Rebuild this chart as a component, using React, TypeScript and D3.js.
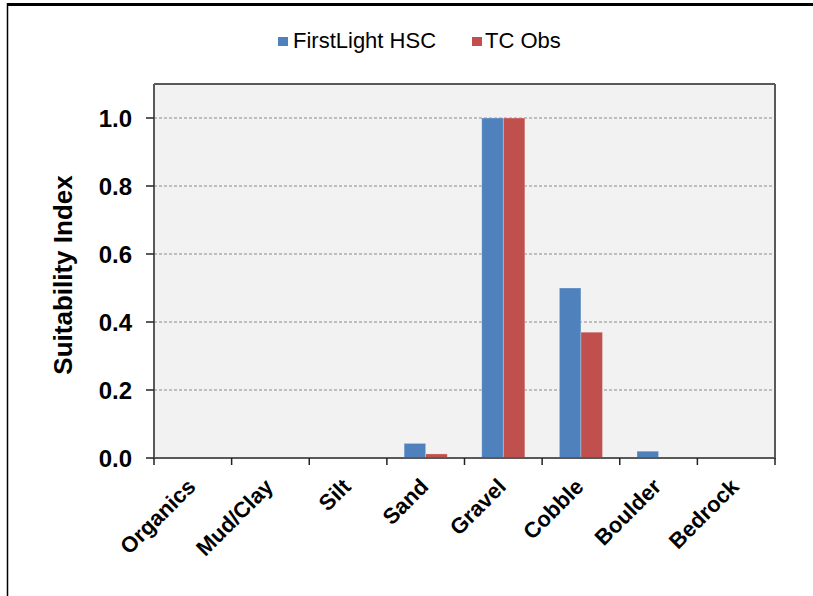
import React from "react";
import * as d3 from "d3";

const categories = ["Organics", "Mud/Clay", "Silt", "Sand", "Gravel", "Cobble", "Boulder", "Bedrock"];
const firstLightHSC = [0, 0, 0, 0.043, 1.0, 0.5, 0.02, 0];
const tcObs = [0, 0, 0, 0.012, 1.0, 0.37, 0, 0];
const seriesNames = ["FirstLight HSC", "TC Obs"];
const seriesColors = ["#4F81BD", "#C0504D"];
const yTicks = [0, 0.2, 0.4, 0.6, 0.8, 1.0];

const W = 813, H = 596;
const M = { left: 154, right: 775, top: 84, bottom: 458 };

export default function App() {
  const x = d3.scaleBand<string>().domain(categories).range([M.left, M.right]).paddingInner(0).paddingOuter(0);
  const xs = d3.scaleBand<string>().domain(seriesNames).range([0, x.bandwidth()]).paddingInner(0).paddingOuter(0.8);
  const y = d3.scaleLinear().domain([0, 1.1]).range([M.bottom, M.top]);
  const series = [firstLightHSC, tcObs];
  const font = "'Liberation Sans', Arial, sans-serif";
  return (
    <div style={{ position: "absolute", left: 0, top: 0 }}>
      <svg width={W} height={H} style={{ display: "block", fontFamily: font }}>
        <rect x={0} y={0} width={W} height={H} fill="#fff" />
        <line x1={7} x2={W} y1={4.5} y2={4.5} stroke="#000" strokeWidth={3} />
        <line x1={7.5} x2={7.5} y1={3} y2={H} stroke="#000" strokeWidth={1.5} />
        <rect x={M.left} y={M.top} width={M.right - M.left} height={M.bottom - M.top} fill="#F2F2F2" />
        {yTicks.filter(t => t > 0).map(t => (
          <line key={t} x1={M.left} x2={M.right} y1={y(t)} y2={y(t)} stroke="#8a8a8a" strokeWidth={1} strokeDasharray="3,2" />
        ))}
        {series.map((vals, si) => categories.map((c, ci) => {
          const v = vals[ci];
          if (v <= 0) return null;
          const bx = (x(c) as number) + (xs(seriesNames[si]) as number);
          return <rect key={si + "-" + ci} x={bx} y={y(v)} width={xs.bandwidth()} height={M.bottom - y(v)} fill={seriesColors[si]} stroke="#ffffff" strokeOpacity={0.35} strokeWidth={0.8} />;
        }))}
        <line x1={M.left} x2={M.right} y1={M.top} y2={M.top} stroke="#595959" strokeWidth={2} />
        <line x1={M.right} x2={M.right} y1={M.top} y2={M.bottom} stroke="#595959" strokeWidth={2} />
        <line x1={M.left} x2={M.left} y1={M.top} y2={M.bottom + 1} stroke="#595959" strokeWidth={2} />
        <line x1={M.left - 1} x2={M.right + 1} y1={M.bottom} y2={M.bottom} stroke="#595959" strokeWidth={2} />
        {yTicks.map(t => (
          <g key={t}>
            <line x1={M.left - 8} x2={M.left} y1={y(t)} y2={y(t)} stroke="#222" strokeWidth={1.5} />
            <text x={M.left - 22} y={y(t)} dy="0.36em" textAnchor="end" fontSize={24} fontWeight="bold" fill="#000">{t.toFixed(1)}</text>
          </g>
        ))}
        {d3.range(categories.length + 1).map(i => {
          const tx = M.left + i * x.step();
          return <line key={i} x1={tx} x2={tx} y1={M.bottom} y2={M.bottom + 7} stroke="#222" strokeWidth={1.5} />;
        })}
        {categories.map(c => {
          const cx = (x(c) as number) + x.bandwidth() / 2 + 4;
          const cy = M.bottom + 30;
          return (
            <text key={c} transform={`translate(${cx},${cy}) rotate(-45)`} textAnchor="end" fontSize={22} fontWeight="bold" fill="#000">{c}</text>
          );
        })}
        <text transform={`translate(72,${(M.top + M.bottom) / 2 + 4}) rotate(-90)`} textAnchor="middle" fontSize={26} fontWeight="bold" fill="#000">Suitability Index</text>
        <rect x={278} y={37} width={10} height={9} fill={seriesColors[0]} />
        <text x={293} y={48} fontSize={22} fill="#000">{seriesNames[0]}</text>
        <rect x={472} y={37} width={10} height={9} fill={seriesColors[1]} />
        <text x={485} y={48} fontSize={22} fill="#000">{seriesNames[1]}</text>
      </svg>
    </div>
  );
}
